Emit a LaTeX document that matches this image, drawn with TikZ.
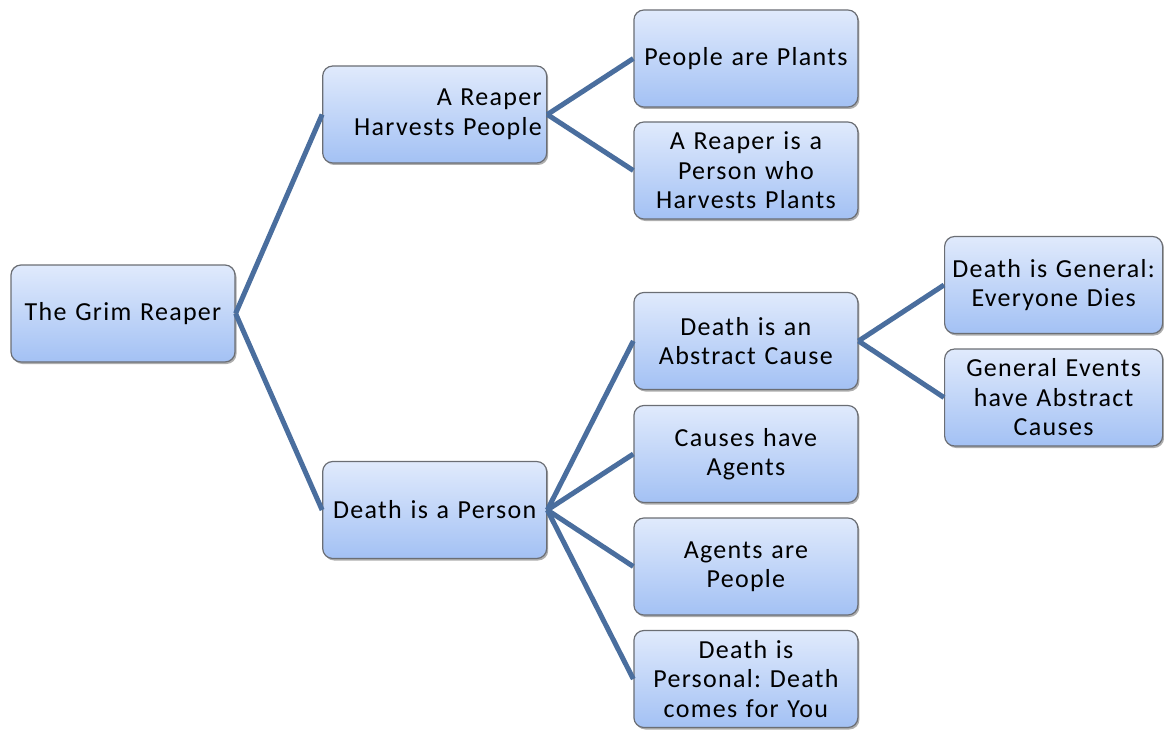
\documentclass[tikz,border=0pt]{standalone}
\usepackage{fontspec}
\setmainfont{Carlito}[LetterSpace=5]
\usetikzlibrary{positioning,shadows}
\frenchspacing

\definecolor{boxtop}{HTML}{E0EAFC}
\definecolor{boxbot}{HTML}{A3C1F4}
\definecolor{boxline}{HTML}{6B6E74}
\definecolor{branch}{HTML}{4A6E9E}

\tikzset{
  idea/.style={draw=boxline, line width=1.2pt, rounded corners=10pt,
    top color=boxtop, bottom color=boxbot,
    drop shadow={shadow xshift=1.5pt, shadow yshift=-2pt, opacity=0.45, fill=black!70},
    minimum width=224pt, minimum height=97pt, text width=206pt, align=center,
    inner sep=0pt, font=\fontsize{26}{29.5}\selectfont},
  narrow/.style={minimum width=218pt, text width=206pt},
  branch/.style={draw=branch, line width=5pt}
}

\begin{document}
\begin{tikzpicture}[x=1pt,y=-1pt]

  \useasboundingbox (0,0) rectangle (1164,730);

  \node [idea] (root) at (123,313.5) {The Grim Reaper};
  \node [idea, align=right, text width=214pt] (harv) [right=86.5pt of root, yshift=199pt] {A Reaper\\Harvests People};
  \node [idea] (person) [right=86.5pt of root, yshift=-196.5pt] {Death is a Person};

  \node [idea] (plants) [right=86pt of harv, yshift=56pt] {People are Plants};
  \node [idea] (reaper) [right=86pt of harv, yshift=-56pt] {A Reaper is a\\Person who\\Harvests Plants};

  \node [idea] (abstract) [right=86pt of person, yshift=169pt] {Death is an\\Abstract Cause};
  \node [idea] (agents) [right=86pt of person, yshift=56pt] {Causes have\\Agents};
  \node [idea] (people) [right=86pt of person, yshift=-56.5pt] {Agents are\\People};
  \node [idea] (personal) [right=86pt of person, yshift=-169pt] {Death is\\Personal: Death\\comes for You};

  \node [idea, narrow] (general) [right=85.5pt of abstract, yshift=56pt] {Death is General:\\Everyone Dies};
  \node [idea, narrow] (events) [right=85.5pt of abstract, yshift=-56.5pt] {General Events\\have Abstract\\Causes};

  \draw [branch] (root.east) -- (harv.west);
  \draw [branch] (root.east) -- (person.west);
  \draw [branch] (harv.east) -- (plants.west);
  \draw [branch] (harv.east) -- (reaper.west);
  \draw [branch] (person.east) -- (abstract.west);
  \draw [branch] (person.east) -- (agents.west);
  \draw [branch] (person.east) -- (people.west);
  \draw [branch] (person.east) -- (personal.west);
  \draw [branch] (abstract.east) -- (general.west);
  \draw [branch] (abstract.east) -- (events.west);

\end{tikzpicture}
\end{document}
